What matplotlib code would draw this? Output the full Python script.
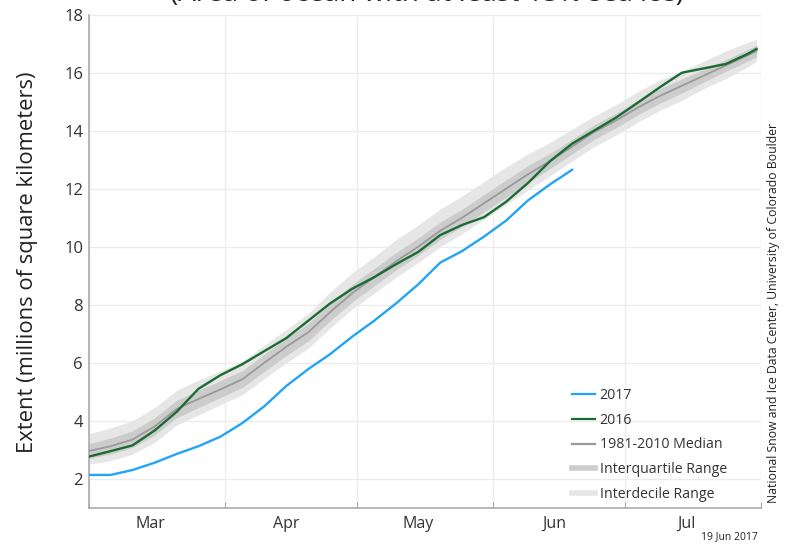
import matplotlib
matplotlib.use("Agg")
import matplotlib.pyplot as plt
import numpy as np
from matplotlib.lines import Line2D

plt.rcParams['font.family'] = ['Open Sans', 'DejaVu Sans']

# days after 1 March (2017 calendar)
days = [0, 5, 10, 15, 20, 25, 30, 35, 40, 45, 50, 55, 60, 65, 70, 75, 80, 85, 90,
        95, 100, 105, 110, 115, 120, 125, 130, 135, 140, 145, 150, 152]

median = [2.95, 3.12, 3.35, 3.80, 4.40, 4.75, 5.08, 5.43, 6.00, 6.55, 7.05, 7.75, 8.40,
          8.95, 9.50, 10.00, 10.55, 11.00, 11.50, 12.00, 12.50, 12.95, 13.45, 13.95,
          14.35, 14.80, 15.20, 15.55, 15.90, 16.25, 16.60, 16.75]
iq_lo = [2.70, 2.85, 3.08, 3.50, 4.10, 4.45, 4.80, 5.15, 5.70, 6.25, 6.75, 7.45, 8.10,
         8.65, 9.20, 9.70, 10.25, 10.70, 11.20, 11.70, 12.20, 12.70, 13.20, 13.70,
         14.10, 14.55, 14.95, 15.30, 15.68, 16.05, 16.40, 16.55]
iq_hi = [3.20, 3.40, 3.65, 4.10, 4.70, 5.05, 5.38, 5.73, 6.30, 6.85, 7.35, 8.05, 8.70,
         9.25, 9.80, 10.30, 10.85, 11.30, 11.80, 12.30, 12.80, 13.22, 13.70, 14.20,
         14.60, 15.05, 15.45, 15.78, 16.12, 16.45, 16.80, 16.95]
id_lo = [2.50, 2.62, 2.85, 3.25, 3.85, 4.20, 4.55, 4.90, 5.45, 6.00, 6.50, 7.20, 7.85,
         8.40, 8.95, 9.45, 10.00, 10.45, 10.95, 11.45, 11.95, 12.45, 12.95, 13.45,
         13.85, 14.30, 14.70, 15.05, 15.45, 15.80, 16.20, 16.40]
id_hi = [3.55, 3.75, 4.00, 4.45, 5.05, 5.40, 5.72, 6.05, 6.60, 7.15, 7.70, 8.45, 9.10,
         9.65, 10.25, 10.75, 11.30, 11.75, 12.25, 12.75, 13.20, 13.60, 14.05, 14.50,
         14.90, 15.35, 15.75, 16.05, 16.40, 16.75, 17.05, 17.15]
ext_2016 = [2.76, 2.95, 3.15, 3.66, 4.30, 5.10, 5.57, 5.95, 6.40, 6.85, 7.45, 8.05, 8.55,
            8.95, 9.40, 9.82, 10.40, 10.75, 11.02, 11.55, 12.20, 12.95, 13.55, 14.00,
            14.45, 14.97, 15.50, 16.00, 16.15, 16.30, 16.65, 16.82]
days_2017 = [0, 5, 10, 15, 20, 25, 30, 35, 40, 45, 50, 55, 60, 65, 70, 75, 80, 85, 90,
             95, 100, 105, 110]
ext_2017 = [2.13, 2.13, 2.30, 2.55, 2.85, 3.12, 3.45, 3.92, 4.50, 5.20, 5.78, 6.30, 6.90,
            7.45, 8.05, 8.70, 9.45, 9.85, 10.35, 10.90, 11.60, 12.15, 12.65]

month_starts = [0, 31, 61, 92, 122, 153]
month_mids = [14, 45, 75, 106, 136]
month_labels = ['Mar', 'Apr', 'May', 'Jun', 'Jul']
yticks = [2, 4, 6, 8, 10, 12, 14, 16, 18]

fig = plt.figure(figsize=(7.88, 5.49), dpi=100)
ax = fig.add_axes([88.6/788, 1-507.7/549, (761-88.6)/788, (507.7-14.7)/549])

c_id = '#e6e6e6'
c_iq = '#cccccc'
c_med = '#9a9a9a'
c16 = '#1b6b32'
c17 = '#23a4f5'

ax.fill_between(days, id_lo, id_hi, color=c_id, lw=0, zorder=1)
ax.fill_between(days, iq_lo, iq_hi, color=c_iq, lw=0, zorder=2)
ax.plot(days, median, color=c_med, lw=1.3, zorder=3)
ax.plot(days, ext_2016, color=c16, lw=1.7, zorder=4)
ax.plot(days_2017, ext_2017, color=c17, lw=1.7, zorder=5)

ax.set_xlim(0, 152)
ax.set_ylim(1, 18)
ax.set_yticks(yticks)
ax.set_yticklabels([str(v) for v in yticks], fontsize=12, color='#333333')
ax.set_xticks(month_starts)
ax.set_xticklabels([])
ax.set_xticks(month_mids, minor=True)
ax.set_xticklabels(month_labels, minor=True, fontsize=11.5, color='#333333')
ax.tick_params(axis='x', which='major', direction='in', length=4, color='#aaaaaa')
ax.tick_params(axis='x', which='minor', length=0, pad=6)
ax.tick_params(axis='y', length=0, pad=4)
ax.grid(True, which='major', color='#ececec', lw=1, zorder=0)
ax.set_axisbelow(True)
for s in ['top', 'right']:
    ax.spines[s].set_visible(False)
for s in ['left', 'bottom']:
    ax.spines[s].set_color('#aaaaaa')
    ax.spines[s].set_linewidth(1.2)

fig.text(28/788, 1-262/549, 'Extent (millions of square kilometers)', rotation=90,
         ha='center', va='center', fontsize=15.8, color='#222222')

handles = [Line2D([], [], color=c17, lw=1.6),
           Line2D([], [], color=c16, lw=1.6),
           Line2D([], [], color=c_med, lw=1.6),
           Line2D([], [], color=c_iq, lw=4),
           Line2D([], [], color=c_id, lw=4)]
labels = ['2017', '2016', '1981-2010 Median', 'Interquartile Range', 'Interdecile Range']
leg = ax.legend(handles, labels, loc='lower left', bbox_to_anchor=(0.719, 0.0115),
                frameon=False, fontsize=10.2, handlelength=1.6, handletextpad=0.35,
                labelspacing=0.69, borderpad=0, borderaxespad=0)
for t in leg.get_texts():
    t.set_color('#333333')

fig.text(427/788, 1-1/549, '(Area of ocean with at least 15% sea ice)', ha='center',
         va='baseline', fontsize=20, color='#222222')
fig.text(774/788, 1-313/549,
         'National Snow and Ice Data Center, University of Colorado Boulder',
         rotation=90, ha='center', va='center', fontsize=8.8, color='#222222')
fig.text(758/788, 1-537/549, '19 Jun 2017', ha='right', va='center', fontsize=7.5,
         color='#222222')

fig.savefig('out.png', dpi=100)
